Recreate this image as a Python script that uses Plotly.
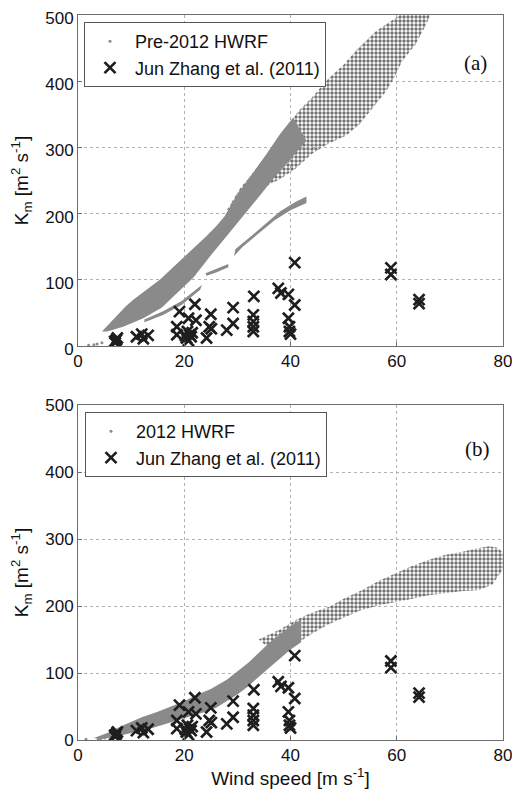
import plotly.graph_objects as go

# ---------------- data ----------------
# Jun Zhang et al. (2011) observations (same in both panels)
zhang_wind = [7.0, 7.2, 7.4, 6.9, 11.0, 12.3, 13.2, 12.0,
              19.1, 22.0, 20.8, 22.2, 18.6, 18.6,
              20.6, 21.0, 20.4, 21.3, 20.8, 21.5, 20.2,
              25.0, 24.7, 25.1, 24.2, 28.0, 29.2, 29.2,
              33.1, 33.0, 33.0, 33.0, 33.0,
              37.7, 38.2, 39.6, 40.8, 40.8, 39.6, 39.8, 39.8, 40.0,
              58.9, 58.9, 64.2, 64.2]
zhang_km = [5, 9, 12, 7, 14, 11, 16, 18,
            52, 63, 42, 39, 29, 17,
            22, 17, 12, 14, 8, 20, 16,
            48, 29, 26, 12, 24, 58, 34,
            75, 47, 37, 29, 22,
            87, 80, 78, 62, 126, 42, 29, 22, 18,
            118, 108, 70, 64]

# Pre-2012 HWRF point cloud, outlined as regions (upper edge then lower edge)
pre_core_wind = [4.5, 5.7, 7.5, 9.0, 10.4, 12.0, 13.7, 15.4, 17.5, 19.8, 22.0, 24.2, 26.0,
                 27.6, 29.9, 33.0, 35.5, 38.0, 40.5,
                 43.0, 40.0, 36.7, 33.6, 31.1, 28.0, 24.8, 21.7, 18.0, 15.8, 12.3, 8.5, 5.5]
pre_core_km = [22, 32, 48, 60, 70, 80, 90, 100, 116, 133, 150, 166, 181,
               196, 228, 262, 290, 320, 345,
               310, 282, 252, 221, 196, 166, 135, 103, 75, 58, 42, 29, 22]
pre_thin_wind = [12.5, 16.1, 19.5, 22.6, 23.3, 23.0, 19.5, 16.0, 12.5]
pre_thin_km = [40, 53, 68, 88, 92, 85, 62, 47, 36]
pre_branch_wind = [29.4, 29.6, 32.0, 35.0, 38.0, 41.0, 43.0, 43.0, 40.0, 37.0, 34.0, 31.0]
pre_branch_km = [136, 146, 162, 183, 203, 218, 226, 216, 205, 190, 170, 150]
pre_piece_wind = [24.0, 26.0, 28.3, 28.3, 26.0, 24.2]
pre_piece_km = [110, 117, 124, 119, 111, 106]
pre_sparse_wind = [28.0, 30.5, 33.0, 35.5, 38.5, 41.5, 44.0, 47.0, 50.0, 52.5, 56.0, 60.6, 66.3,
                   65.5, 63.5, 61.0, 59.5, 58.0, 55.5, 53.0, 50.5, 47.0, 44.0, 41.0, 38.0, 35.0,
                   31.0]
pre_sparse_km = [205, 238, 262, 290, 322, 355, 375, 403, 425, 448, 475, 500, 500,
                 485, 455, 430, 405, 385, 360, 335, 318, 305, 290, 268, 252, 240,
                 215]
pre_tail_wind = [2.0, 3.0, 3.6, 4.5]
pre_tail_km = [1, 2, 3, 5]

# 2012 HWRF point cloud
new_core_wind = [3, 6, 8, 10, 12, 15, 18, 20, 22, 25, 28, 30, 32, 34, 36, 38, 40, 42,
                 42, 40, 38, 36, 34, 32, 30, 28, 26, 24, 22, 20, 17, 14, 12, 10, 8, 6, 4]
new_core_km = [3, 12, 20, 27, 34, 42, 52, 58, 66, 76, 90, 102, 115, 130, 145, 158, 170, 180,
               146, 135, 122, 108, 94, 80, 68, 58, 48, 42, 37, 32, 25, 18, 14, 10, 6, 3, 1.5]
new_sparse_wind = [34, 38, 41, 44, 47.3, 50, 53.5, 56.5, 59.8, 63, 66.1, 69, 72.4, 75, 77.4, 79, 80,
                   80, 78, 75.5, 72, 69.3, 66, 63, 60, 56.7, 53, 50.4, 47, 44.1, 41, 38]
new_sparse_km = [150, 165, 179, 190, 199, 211, 224, 237, 249, 260, 269, 276, 281, 286, 289, 287, 280,
                 255, 232, 224, 222, 219, 216, 211, 206, 201, 193, 184, 172, 159, 143, 124]
new_tail_wind = [1.5, 3.8, 4.3, 5.0]
new_tail_km = [1, 1.5, 2, 3]

x_ticks = [0, 20, 40, 60, 80]
y_ticks = [0, 100, 200, 300, 400, 500]

# ---------------- style ----------------
GRAY = "#8a8a8a"
DARK = "#1e1e1e"
FONT = "Liberation Sans, Arial, sans-serif"
SERIF = "Liberation Serif, Times New Roman, serif"

fig = go.Figure()


def region(xs, ys, xa, ya, sparse=False):
    kw = dict(x=xs, y=ys, xaxis=xa, yaxis=ya, mode="lines", fill="toself",
              line=dict(width=0, color=GRAY), showlegend=False, hoverinfo="skip")
    if sparse:
        kw["fillcolor"] = "rgba(0,0,0,0)"
        kw["fillpattern"] = dict(shape=".", fgcolor="#727272", bgcolor="rgba(255,255,255,0)",
                                 size=4, solidity=0.55, fillmode="replace")
    else:
        kw["fillcolor"] = GRAY
    fig.add_trace(go.Scatter(**kw))


# top panel regions
region(pre_sparse_wind, pre_sparse_km, "x", "y", sparse=True)
region(pre_core_wind, pre_core_km, "x", "y")
region(pre_thin_wind, pre_thin_km, "x", "y")
region(pre_branch_wind, pre_branch_km, "x", "y")
region(pre_piece_wind, pre_piece_km, "x", "y")
fig.add_trace(go.Scatter(x=pre_tail_wind, y=pre_tail_km, xaxis="x", yaxis="y", mode="markers",
                         marker=dict(size=3, color=GRAY), showlegend=False, hoverinfo="skip"))

# bottom panel regions
region(new_sparse_wind, new_sparse_km, "x2", "y2", sparse=True)
region(new_core_wind, new_core_km, "x2", "y2")
fig.add_trace(go.Scatter(x=new_tail_wind, y=new_tail_km, xaxis="x2", yaxis="y2", mode="markers",
                         marker=dict(size=3, color=GRAY), showlegend=False, hoverinfo="skip"))

cross = dict(symbol="x-thin", size=11, color=DARK, line=dict(width=2.7, color=DARK))

# legend entries and crosses
fig.add_trace(go.Scatter(x=[None], y=[None], xaxis="x", yaxis="y", mode="markers",
                         name="Pre-2012 HWRF", marker=dict(size=3, color=GRAY), legend="legend"))
fig.add_trace(go.Scatter(x=zhang_wind, y=zhang_km, xaxis="x", yaxis="y", mode="markers",
                         name="Jun Zhang et al. (2011)", marker=cross, legend="legend"))
fig.add_trace(go.Scatter(x=[None], y=[None], xaxis="x2", yaxis="y2", mode="markers",
                         name="2012 HWRF", marker=dict(size=3, color=GRAY), legend="legend2"))
fig.add_trace(go.Scatter(x=zhang_wind, y=zhang_km, xaxis="x2", yaxis="y2", mode="markers",
                         name="Jun Zhang et al. (2011)", marker=cross, legend="legend2"))

# the page body adds an 8px margin; plot area target in window px: x 78..503, y 15..740
OFF = 8
FW, FH = 520 - OFF, 793 - OFF
ML, MT = 78 - OFF, 15 - OFF
MR = FW - (503 - OFF)
MB = FH - (740 - OFF)
PH = FH - MT - MB
PW = FW - ML - MR
top_dom = [(740 - 346) / PH, 1.0]
bot_dom = [0.0, (740 - 405) / PH]

axis_common = dict(showline=True, linecolor="#6e6e6e", linewidth=1, mirror=True,
                   ticks="inside", ticklen=4, tickcolor="#6e6e6e",
                   showgrid=True, gridcolor="#b0b0b0", griddash="dot", gridwidth=1,
                   zeroline=False, automargin=False, ticklabeloverflow="allow",
                   tickfont=dict(family=FONT, size=17, color="#111"))

ytitle = "K<sub>m</sub> [m<sup>2</sup> s<sup>-1</sup>]"

fig.update_layout(
    width=FW, height=FH,
    margin=dict(l=ML, r=MR, t=MT, b=MB, autoexpand=False),
    paper_bgcolor="white", plot_bgcolor="white",
    font=dict(family=FONT, color="#111"),
    xaxis=dict(domain=[0, 1], range=[0, 80], tickvals=x_ticks, anchor="y", **axis_common),
    yaxis=dict(domain=top_dom, range=[0, 500], tickvals=y_ticks, anchor="x",
               ticklabelshift=3,
               title=dict(text=ytitle, font=dict(family=FONT, size=19), standoff=12),
               **axis_common),
    xaxis2=dict(domain=[0, 1], range=[0, 80], tickvals=x_ticks, anchor="y2",
                title=dict(text="Wind speed [m s<sup>-1</sup>]", font=dict(family=FONT, size=19),
                           standoff=6),
                **axis_common),
    yaxis2=dict(domain=bot_dom, range=[0, 500], tickvals=y_ticks, anchor="x2",
                title=dict(text=ytitle, font=dict(family=FONT, size=19), standoff=12),
                **axis_common),
    legend=dict(x=(84 - 78) / PW, y=(740 - 22) / PH, xanchor="left", yanchor="top",
                xref="paper", yref="paper", itemwidth=40,
                bgcolor="white", bordercolor="#555", borderwidth=1,
                font=dict(family=FONT, size=18, color="#111")),
    legend2=dict(x=(85 - 78) / PW, y=(740 - 412) / PH, xanchor="left", yanchor="top",
                 xref="paper", yref="paper", itemwidth=40,
                 bgcolor="white", bordercolor="#555", borderwidth=1,
                 font=dict(family=FONT, size=18, color="#111")),
    annotations=[
        dict(text="(a)", xref="x domain", yref="y domain", x=0.936, y=0.855,
             xanchor="center", yanchor="middle",
             showarrow=False, font=dict(family=SERIF, size=21, color="#111")),
        dict(text="(b)", xref="x2 domain", yref="y2 domain", x=0.939, y=0.869,
             xanchor="center", yanchor="middle",
             showarrow=False, font=dict(family=SERIF, size=21, color="#111")),
    ],
)

fig.write_html("out.html")
